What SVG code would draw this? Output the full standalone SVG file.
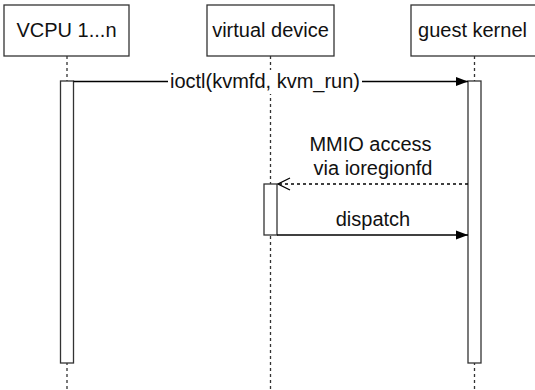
<svg xmlns="http://www.w3.org/2000/svg" width="535" height="390" viewBox="0 0 535 390">
  <style>
    .actor { fill: #ffffff; stroke: #333333; stroke-width: 1.3; }
    .life { stroke: #333333; stroke-width: 1.3; stroke-dasharray: 3 3; fill: none; }
    .act { fill: #ffffff; stroke: #333333; stroke-width: 1.3; }
    .msg { stroke: #000000; stroke-width: 1.3; fill: none; }
    .ret { stroke: #000000; stroke-width: 1.3; fill: none; stroke-dasharray: 3 3; }
    text { font-family: "Liberation Sans", Arial, sans-serif; font-size: 20px; fill: #111111; text-anchor: middle; }
  </style>
  <defs>
    <marker id="solidHead" viewBox="0 0 12 10" refX="12" refY="5" markerWidth="12" markerHeight="10" markerUnits="userSpaceOnUse" orient="auto">
      <path d="M0,0.5 L12,5 L0,9.5 Z" fill="#000000"/>
    </marker>
    <marker id="openHead" viewBox="-1 -1 14 14" refX="12" refY="6" markerWidth="14" markerHeight="14" markerUnits="userSpaceOnUse" orient="auto">
      <path d="M0,0 L12,6 L0,12" fill="none" stroke="#000000" stroke-width="1.3"/>
    </marker>
  </defs>

  <rect width="535" height="390" fill="#ffffff"/>

  <!-- lifelines -->
  <g id="lifelines">
    <line class="life" x1="67" y1="56" x2="67" y2="390"/>
    <line class="life" x1="270.5" y1="56" x2="270.5" y2="390"/>
    <line class="life" x1="474.5" y1="56" x2="474.5" y2="390"/>
  </g>

  <!-- participants -->
  <g id="vcpu">
    <rect class="actor" x="4" y="5" width="125" height="51"/>
    <text x="66.5" y="37">VCPU 1...n</text>
    <rect class="act" x="60.5" y="81" width="13" height="282"/>
  </g>
  <g id="virtual-device">
    <rect class="actor" x="207" y="5" width="127" height="51"/>
    <text x="270.5" y="37">virtual device</text>
    <rect class="act" x="264" y="184" width="13" height="51"/>
  </g>
  <g id="guest-kernel">
    <rect class="actor" x="411" y="5" width="127" height="51"/>
    <text x="472.5" y="37">guest kernel</text>
    <rect class="act" x="468" y="81" width="13" height="282"/>
  </g>

  <!-- messages -->
  <g id="connectors">
    <line class="msg" x1="73.5" y1="81.5" x2="468" y2="81.5" marker-end="url(#solidHead)"/>
    <rect x="168" y="70" width="194" height="24" fill="#ffffff"/>
    <text x="265" y="88">ioctl(kvmfd, kvm_run)</text>

    <line class="ret" x1="468" y1="184" x2="278" y2="184" marker-end="url(#openHead)"/>
    <text x="370.5" y="151">MMIO access</text>
    <text x="373" y="175">via ioregionfd</text>

    <line class="msg" x1="277" y1="235" x2="468" y2="235" marker-end="url(#solidHead)"/>
    <text x="373" y="226">dispatch</text>
  </g>
</svg>
